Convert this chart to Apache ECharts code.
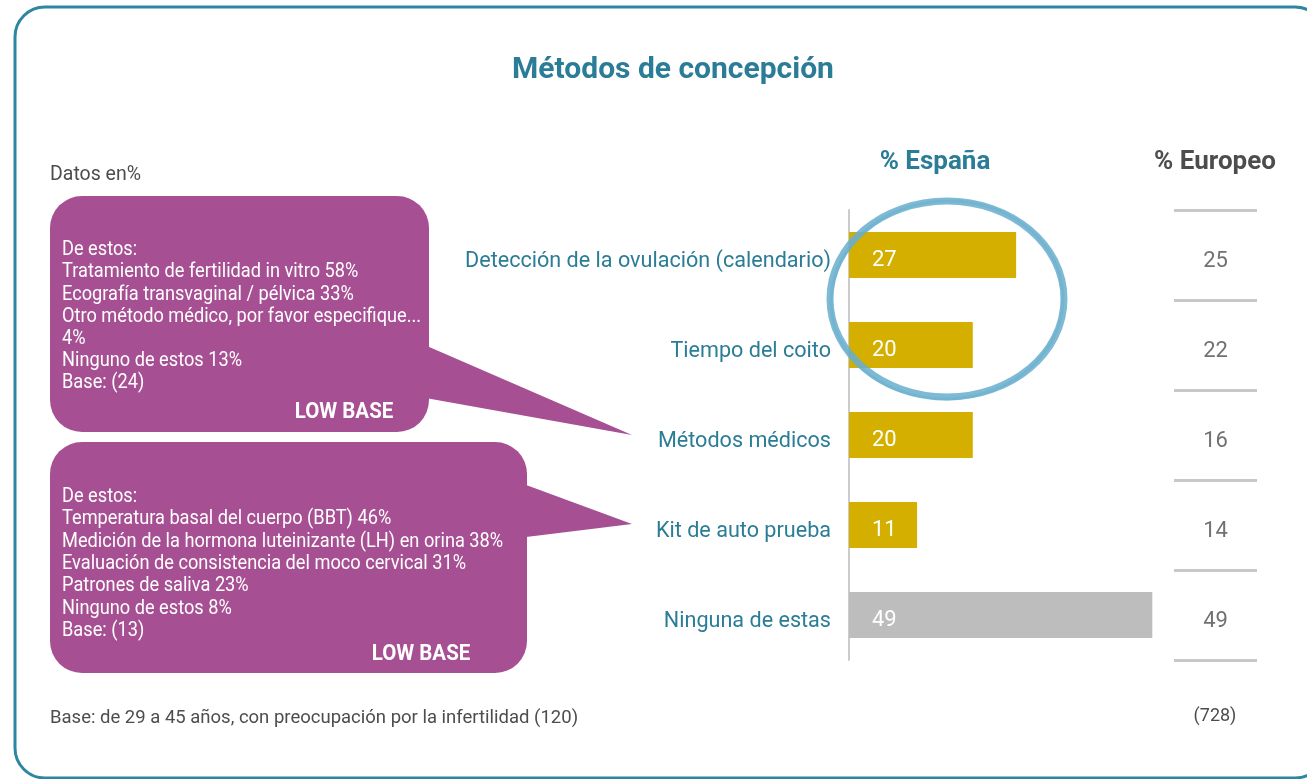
<!DOCTYPE html>
<html>
<head>
<meta charset="utf-8">
<script src="https://cdn.jsdelivr.net/npm/echarts@6/dist/echarts.min.js"></script>
<style>
  html, body { margin: 0; padding: 0; background: #fff; }
  #chart { width: 1307px; height: 779px; }
</style>
</head>
<body>
<div id="chart"></div>
<script>
const categories = [
  'Detección de la ovulación (calendario)',
  'Tiempo del coito',
  'Métodos médicos',
  'Kit de auto prueba',
  'Ninguna de estas'
]
const espana = [27, 20, 20, 11, 49]
const europeo = [25, 22, 16, 14, 49]

const bubbleMedicos = [
  'De estos:',
  'Tratamiento de fertilidad in vitro 58%',
  'Ecografía transvaginal / pélvica 33%',
  'Otro método médico, por favor especifique...',
  '4%',
  'Ninguno de estos 13%',
  'Base: (24)'
]
const bubbleKit = [
  'De estos:',
  'Temperatura basal del cuerpo (BBT) 46%',
  'Medición de la hormona luteinizante (LH) en orina 38%',
  'Evaluación de consistencia del moco cervical 31%',
  'Patrones de saliva 23%',
  'Ninguno de estos 8%',
  'Base: (13)'
]

const FONT = 'Roboto, "Liberation Sans", sans-serif'
const TEAL = '#2b7d97'
const GREY = '#4d4d4d'
const PURPLE = '#a64f93'

// condensed-looking text for the annotation bubbles
function label(x, y, text, font, extra) {
  return {
    type: 'text', x: x, y: y, scaleX: 0.91,
    style: Object.assign({ text: text, fill: '#ffffff', font: font }, extra || {})
  }
}

let myChart = echarts.init(document.getElementById('chart'))
myChart.setOption({
  animation: false,
  textStyle: { fontFamily: FONT },
  title: {
    text: 'Métodos de concepción',
    left: 668,
    top: 50,
    textAlign: 'center',
    textStyle: { color: TEAL, fontSize: 30, fontWeight: 'bold', fontFamily: FONT }
  },
  grid: [
    { left: 849, top: 210, width: 309.5, height: 450 },
    { left: 1174, top: 210, width: 83, height: 450 }
  ],
  xAxis: [
    { gridIndex: 0, type: 'value', min: 0, max: 50, show: false },
    { gridIndex: 1, type: 'value', min: -1, max: 1, show: false }
  ],
  yAxis: [
    {
      gridIndex: 0,
      type: 'category',
      inverse: true,
      data: categories,
      axisLine: { lineStyle: { color: '#cccccc', width: 2 } },
      axisTick: { show: false },
      axisLabel: {
        color: TEAL,
        fontSize: 21.6,
        margin: 18,
        verticalAlign: 'top',
        lineHeight: 14,
        fontFamily: FONT
      }
    },
    {
      gridIndex: 1,
      type: 'category',
      inverse: true,
      data: categories,
      axisLine: { show: false },
      axisTick: { show: false },
      axisLabel: { show: false },
      splitLine: { show: true, lineStyle: { color: '#c8c8c8', width: 3 } }
    }
  ],
  series: [
    {
      name: '% España',
      type: 'bar',
      xAxisIndex: 0,
      yAxisIndex: 0,
      barWidth: 46,
      data: espana.map((v, i) => ({
        value: v,
        itemStyle: { color: i === espana.length - 1 ? '#bdbdbd' : '#d4af00' }
      })),
      label: {
        show: true,
        position: 'insideLeft',
        distance: 23,
        offset: [0, 5],
        color: '#ffffff',
        fontSize: 22,
        fontFamily: FONT
      }
    },
    {
      name: '% Europeo',
      type: 'scatter',
      xAxisIndex: 1,
      yAxisIndex: 1,
      symbolSize: 1,
      itemStyle: { color: 'rgba(0,0,0,0)' },
      data: europeo.map((v, i) => [0, i, v]),
      label: {
        show: true,
        position: 'inside',
        offset: [0, 6],
        formatter: p => p.value[2],
        color: GREY,
        fontSize: 22,
        fontFamily: FONT
      }
    }
  ],
  graphic: [
    // frame
    {
      type: 'rect',
      shape: { x: 15, y: 7, width: 1310, height: 771, r: 30 },
      style: { fill: 'none', stroke: '#2e86a0', lineWidth: 3 },
      z: -10
    },
    {
      type: 'text', x: 50, y: 175,
      style: { text: 'Datos en%', fill: GREY, font: '19.5px ' + FONT, textVerticalAlign: 'middle' }
    },
    {
      type: 'text', x: 935, y: 162,
      style: { text: '% España', fill: TEAL, font: 'bold 26px ' + FONT, textAlign: 'center', textVerticalAlign: 'middle' }
    },
    {
      type: 'text', x: 1215, y: 162,
      style: { text: '% Europeo', fill: GREY, font: 'bold 26px ' + FONT, textAlign: 'center', textVerticalAlign: 'middle' }
    },
    // bubble 1
    {
      type: 'rect',
      shape: { x: 50, y: 196, width: 379, height: 236, r: 32 },
      style: { fill: PURPLE }
    },
    {
      type: 'polygon',
      shape: { points: [[420, 343], [632, 435], [420, 397]] },
      style: { fill: PURPLE }
    },
    label(62, 239, bubbleMedicos.join('\n'), '20px ' + FONT, { lineHeight: 22.2, textVerticalAlign: 'top' }),
    label(344, 412, 'LOW BASE', 'bold 22.5px ' + FONT, { textAlign: 'center', textVerticalAlign: 'middle' }),
    // bubble 2
    {
      type: 'rect',
      shape: { x: 50, y: 442, width: 477, height: 231, r: 32 },
      style: { fill: PURPLE }
    },
    {
      type: 'polygon',
      shape: { points: [[518, 482], [632, 524], [518, 538]] },
      style: { fill: PURPLE }
    },
    label(62, 486, bubbleKit.join('\n'), '20px ' + FONT, { lineHeight: 22.3, textVerticalAlign: 'top' }),
    label(421, 654, 'LOW BASE', 'bold 22.5px ' + FONT, { textAlign: 'center', textVerticalAlign: 'middle' }),
    // hand-drawn highlight ring
    {
      type: 'ellipse',
      shape: { cx: 947, cy: 299, rx: 117, ry: 98 },
      style: { fill: 'none', stroke: 'rgba(104,174,206,0.85)', lineWidth: 7 },
      z: 100
    },
    {
      type: 'ellipse',
      x: 947, y: 300, rotation: 0.05,
      shape: { cx: 0, cy: 0, rx: 116, ry: 99 },
      style: { fill: 'none', stroke: 'rgba(104,174,206,0.5)', lineWidth: 3 },
      z: 100
    },
    {
      type: 'text', x: 50, y: 718,
      style: { text: 'Base: de 29 a 45 años, con preocupación por la infertilidad (120)', fill: GREY, font: '18.5px ' + FONT, textVerticalAlign: 'middle' }
    },
    {
      type: 'text', x: 1215, y: 716,
      style: { text: '(728)', fill: GREY, font: '18px ' + FONT, textAlign: 'center', textVerticalAlign: 'middle' }
    }
  ]
})
</script>
</body>
</html>
